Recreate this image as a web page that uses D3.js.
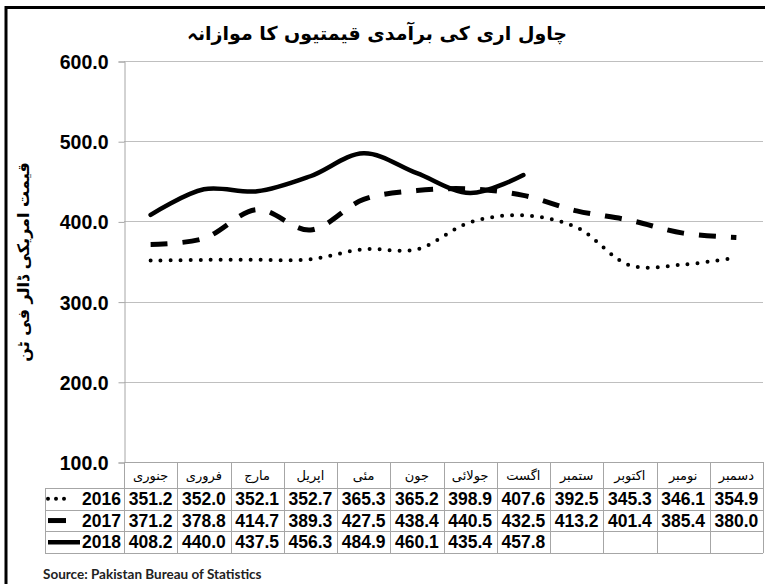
<!DOCTYPE html>
<html lang="ur">
<head>
<meta charset="utf-8">
<title>rice export prices</title>
<style>
  body { margin: 0; background: #fff; }
  .tick-label { font-family: "Liberation Sans", Arial, sans-serif; font-weight: bold; font-size: 19.5px; fill: #000; }
  .cell { font-family: "Liberation Sans", Arial, sans-serif; font-weight: bold; font-size: 17.5px; fill: #000; }
  .urdu { font-family: "DejaVu Sans", sans-serif; fill: #000; }
  path.line { fill: none; stroke: #000; }
  .grid line { stroke: #bfbfbf; stroke-width: 1px; }
  .tbl line { stroke: #a6a6a6; stroke-width: 1px; }
</style>
</head>
<body>
<script src="https://cdnjs.cloudflare.com/ajax/libs/d3/7.8.5/d3.min.js"></script>
<script>
// data
var months = ["جنوری", "فروری", "مارج", "اپریل", "مئی", "جون", "جولائی", "اگست", "ستمبر", "اکتوبر", "نومبر", "دسمبر"];
var years = ["2016", "2017", "2018"];
var v2016 = [351.2, 352.0, 352.1, 352.7, 365.3, 365.2, 398.9, 407.6, 392.5, 345.3, 346.1, 354.9];
var v2017 = [371.2, 378.8, 414.7, 389.3, 427.5, 438.4, 440.5, 432.5, 413.2, 401.4, 385.4, 380.0];
var v2018 = [408.2, 440.0, 437.5, 456.3, 484.9, 460.1, 435.4, 457.8];
var yTicks = [100, 200, 300, 400, 500, 600];
var title = "چاول اری کی برآمدی قیمتیوں کا موازانہ";
var yTitle = "قیمت امریکی ڈالر فی ٹن";
var source = "Source: Pakistan Bureau of Statistics";

var W = 765, H = 584;
var plotLeft = 124, plotRight = 763, plotTop = 61, plotBottom = 462;
var tableLeft = 45;
var headerH = 26, rowH = 21.7;

var series = [
  { year: "2016", values: v2016, width: 4, dash: "0,10", cap: "round" },
  { year: "2017", values: v2017, width: 5, dash: "17,15", cap: "butt" },
  { year: "2018", values: v2018, width: 4.5, dash: null, cap: "round" }
];

var svg = d3.select("body").append("svg")
  .attr("width", W)
  .attr("height", H);

// frame
svg.append("line").attr("x1", 6).attr("x2", 6).attr("y1", 6).attr("y2", H)
  .attr("stroke", "#000").attr("stroke-width", 3);
svg.append("line").attr("x1", 5).attr("x2", W).attr("y1", 7.5).attr("y2", 7.5)
  .attr("stroke", "#000").attr("stroke-width", 3);

var xScale = d3.scaleBand().domain(months).range([plotLeft, plotRight]);
var yScale = d3.scaleLinear().domain([100, 600]).range([plotBottom, plotTop]);

// grid
var grid = svg.append("g").attr("class", "grid");
grid.selectAll("line").data(yTicks.slice(1)).enter().append("line")
  .attr("x1", plotLeft).attr("x2", plotRight)
  .attr("y1", function(d) { return Math.round(yScale(d)) + 0.5; })
  .attr("y2", function(d) { return Math.round(yScale(d)) + 0.5; });

// y axis
var yAxis = d3.axisLeft(yScale).tickValues(yTicks).tickSize(6).tickPadding(10)
  .tickFormat(d3.format(".1f"));
var ga = svg.append("g").attr("transform", "translate(" + (plotLeft + 0.5) + ",0.5)").call(yAxis);
ga.select(".domain").attr("stroke", "#a6a6a6");
ga.selectAll(".tick line").attr("stroke", "#a6a6a6");
ga.selectAll(".tick text").attr("class", "tick-label").attr("font-size", null).attr("font-family", null)
  .attr("fill", null).attr("dy", "0.36em");

// lines
var line = d3.line()
  .curve(d3.curveCatmullRom.alpha(0.5))
  .x(function(d, i) { return xScale(months[i]) + xScale.bandwidth() / 2; })
  .y(function(d) { return yScale(d); });

series.forEach(function(s) {
  svg.append("path")
    .attr("class", "line")
    .attr("d", line(s.values))
    .attr("stroke-width", s.width)
    .attr("stroke-dasharray", s.dash)
    .attr("stroke-linecap", s.cap)
    .attr("stroke-linejoin", "round");
});

// table
var tbl = svg.append("g").attr("class", "tbl");
var rowTop = plotBottom + headerH;
var tableBottom = rowTop + rowH * 3;

tbl.append("line").attr("x1", plotLeft).attr("x2", plotRight).attr("y1", plotBottom + 0.5).attr("y2", plotBottom + 0.5);
d3.range(4).forEach(function(i) {
  var y = Math.round(rowTop + rowH * i) + 0.5;
  tbl.append("line").attr("x1", tableLeft).attr("x2", plotRight).attr("y1", y).attr("y2", y);
});
var cols = months.map(function(m) { return xScale(m); }).concat([plotRight]);
cols.forEach(function(x) {
  var xx = Math.round(x) + 0.5;
  tbl.append("line").attr("x1", xx).attr("x2", xx).attr("y1", plotBottom).attr("y2", tableBottom);
});
tbl.append("line").attr("x1", tableLeft + 0.5).attr("x2", tableLeft + 0.5).attr("y1", rowTop).attr("y2", tableBottom);

// month headers
svg.selectAll("text.month").data(months).enter().append("text")
  .attr("class", "urdu month")
  .attr("font-size", 13)
  .attr("text-anchor", "middle")
  .attr("x", function(d) { return xScale(d) + xScale.bandwidth() / 2; })
  .attr("y", plotBottom + headerH / 2 + 5)
  .text(function(d) { return d; });

// value rows
series.forEach(function(s, r) {
  var cy = rowTop + rowH * r + rowH / 2;
  svg.selectAll(null).data(s.values).enter().append("text")
    .attr("class", "cell")
    .attr("text-anchor", "middle")
    .attr("x", function(d, i) { return xScale(months[i]) + xScale.bandwidth() / 2; })
    .attr("y", cy + 6)
    .text(function(d) { return d.toFixed(1); });

  svg.append("text")
    .attr("class", "cell")
    .attr("text-anchor", "end")
    .attr("x", plotLeft - 3)
    .attr("y", cy + 6)
    .text(s.year);

  // legend key
  var x2 = r == 2 ? 80 : 66;
  svg.append("line")
    .attr("x1", 48).attr("x2", x2)
    .attr("y1", cy).attr("y2", cy)
    .attr("stroke", "#000")
    .attr("stroke-width", s.width)
    .attr("stroke-dasharray", r == 0 ? "0,8" : null)
    .attr("stroke-linecap", r == 0 ? "round" : "butt");
});

// title
svg.append("text")
  .attr("class", "urdu")
  .attr("font-size", 19)
  .attr("font-weight", "bold")
  .attr("text-anchor", "middle")
  .attr("x", 377)
  .attr("y", 40)
  .text(title);

// y title
svg.append("text")
  .attr("class", "urdu")
  .attr("font-size", 16)
  .attr("font-weight", "bold")
  .attr("text-anchor", "middle")
  .attr("transform", "translate(29,262) rotate(-90)")
  .text(yTitle);

// source
svg.append("text")
  .attr("x", 43)
  .attr("y", 579)
  .attr("font-family", "Lato, 'Open Sans', sans-serif")
  .attr("font-weight", "bold")
  .attr("font-size", 13.5)
  .attr("fill", "#222")
  .text(source);
</script>
</body>
</html>
